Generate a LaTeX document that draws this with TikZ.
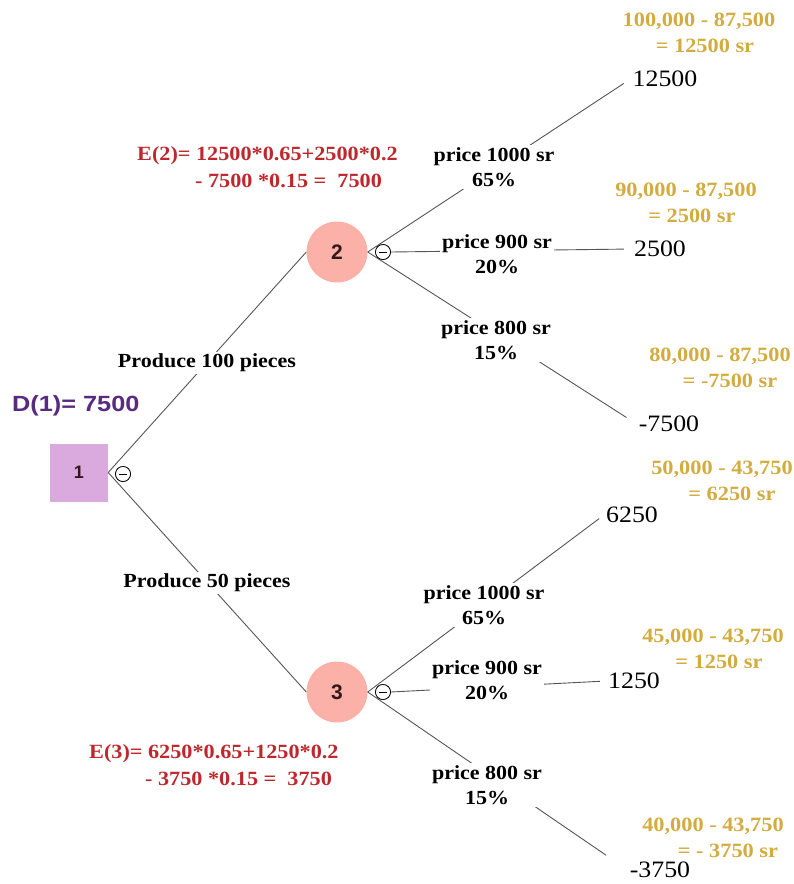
\documentclass[tikz,border=0pt]{standalone}
\usepackage{fontspec}
\setmainfont{Liberation Serif}[FakeStretch=1.1]
\newfontfamily\dsans{Liberation Sans}[FakeStretch=1.15]
\newfontfamily\nsans{Liberation Sans}
\definecolor{linegray}{RGB}{85,85,85}
\definecolor{goldc}{RGB}{210,172,62}
\definecolor{redc}{RGB}{190,40,45}
\definecolor{purp}{RGB}{88,42,128}
\definecolor{lav}{RGB}{218,170,222}
\definecolor{salmon}{RGB}{251,176,168}
\definecolor{numc}{RGB}{50,25,25}
\tikzset{
  conn/.style={draw=linegray, line width=0.9pt},
  lbl/.style={fill=white, inner sep=2pt, align=center, font=\fontsize{20}{25}\selectfont\bfseries},
  val/.style={inner sep=2pt, font=\fontsize{23.5}{26}\selectfont},
  gold/.style={text=goldc, align=center, inner sep=0pt, font=\fontsize{20.3}{26}\selectfont\bfseries},
  redt/.style={text=redc, anchor=west, inner sep=0pt, font=\fontsize{20.2}{24}\selectfont\bfseries},
  decbox/.style={rectangle, fill=lav, minimum size=58pt, inner sep=0pt, text=numc, font=\nsans\fontsize{18}{20}\selectfont\bfseries},
  chance/.style={circle, fill=salmon, minimum size=61pt, inner sep=0pt, text=numc, font=\nsans\fontsize{21}{24}\selectfont\bfseries},
  minusc/.style={circle, draw=black, fill=white, line width=0.7pt, minimum size=15pt, inner sep=0pt,
    path picture={\draw[line width=0.8pt] ([xshift=3.5pt]path picture bounding box.west) -- ([xshift=-3.5pt]path picture bounding box.east);}}
}
\begin{document}
\begin{tikzpicture}[x=1pt,y=-1pt]
\useasboundingbox (0,0) rectangle (794,884);
% decision and chance nodes
\node[decbox] (n1) at (79,472.5) {1};
\node[chance] (n2) at (337,252) {2};
\node[chance] (n3) at (337,692) {3};
% values
\node[val] (v1) at (665,79) {12500};
\node[val] (v2) at (660,249) {2500};
\node[val] (v3) at (669,424) {-7500};
\node[val] (v4) at (632,515) {6250};
\node[val] (v5) at (634,681) {1250};
\node[val] (v6) at (660,870) {-3750};
% minus markers
\node[minusc] (m1) at (123,474) {};
\node[minusc] (m2) at (383,252) {};
\node[minusc] (m3) at (383,692) {};
% connectors
\draw[conn] (n1.east) -- (n2.west);
\draw[conn] (n1.east) -- (n3.west);
\draw[conn, shorten >=8pt] (n2.east) -- (v1.west);
\draw[conn, shorten >=8pt] (m2.east) -- (v2.west);
\draw[conn, shorten >=12pt] (n2.east) -- (v3.west);
\draw[conn, shorten >=6pt] (n3.east) -- (v4.west);
\draw[conn, shorten >=6pt] (m3.east) -- (v5.west);
\draw[conn, shorten >=26pt] (n3.east) -- (v6.west);
\node[minusc] at (m1) {};
\node[minusc] at (m2) {};
\node[minusc] at (m3) {};
% branch labels
\node[lbl] (p1) at (207,363) {Produce 100 pieces};
\node[lbl] (p2) at (207,583) {Produce 50 pieces};
\node[lbl] (l1) at (494,167) {price 1000 sr\\65\%};
\node[lbl] (l2) at (497,254) {price 900 sr\\20\%};
\node[lbl] (l3) at (496,340) {price 800 sr\\15\%};
\node[lbl] (l4) at (484,605) {price 1000 sr\\65\%};
\node[lbl] (l5) at (487,680) {price 900 sr\\20\%};
\node[lbl] (l6) at (487,785) {price 800 sr\\15\%};
% payoff computations
\node[gold] (g1) at (699,33) {100,000 - 87,500\\\hspace*{12pt}= 12500 sr};
\node[gold] (g2) at (686,203) {90,000 - 87,500\\\hspace*{12pt}= 2500 sr};
\node[gold] (g3) at (720,368) {80,000 - 87,500\\\hspace*{20pt}= -7500 sr};
\node[gold] (g4) at (722,481) {50,000 - 43,750\\\hspace*{20pt}= 6250 sr};
\node[gold] (g5) at (713,649) {45,000 - 43,750\\\hspace*{12pt}= 1250 sr};
\node[gold] (g6) at (713,838) {40,000 - 43,750\\\hspace*{30pt}= - 3750 sr};
% expected values
\node[redt] (e2a) at (137,156) {E(2)= 12500*0.65+2500*0.2};
\node[redt] (e2b) at (195,181) {- 7500 *0.15 =\ \ 7500};
\node[redt] (e3a) at (89,754) {E(3)= 6250*0.65+1250*0.2};
\node[redt] (e3b) at (145,779) {- 3750 *0.15 =\ \ 3750};
\node[text=purp, anchor=west, inner sep=0pt, font=\dsans\fontsize{22}{26}\selectfont\bfseries] (d1) at (12,406) {D(1)= 7500};
\end{tikzpicture}
\end{document}
